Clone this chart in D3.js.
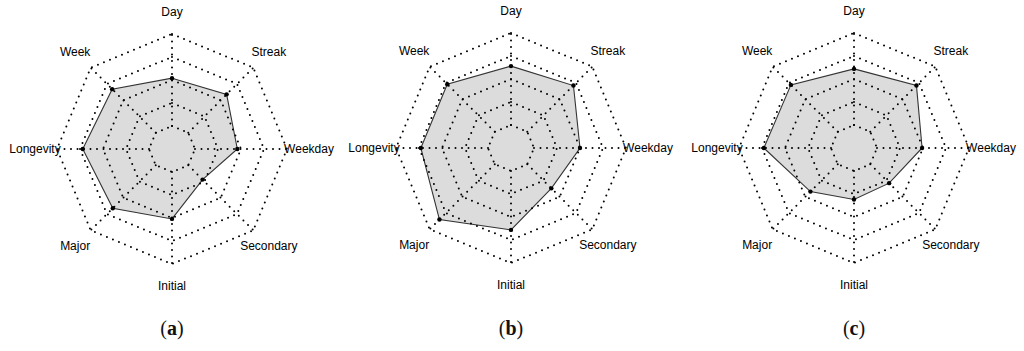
<!DOCTYPE html>
<html>
<head>
<meta charset="utf-8">
<script src="https://cdn.jsdelivr.net/npm/d3@7"></script>
<style>
  html, body { margin: 0; padding: 0; background: #fff; }
  svg { display: block; }
</style>
</head>
<body>
<svg id="chart" width="1024" height="351"></svg>
<script>
const categories = ["Day", "Streak", "Weekday", "Secondary", "Initial", "Major", "Longevity", "Week"];
const seriesA = [52, 59, 46, 22, 51, 66, 72, 67];
const seriesB = [64, 71, 50, 37, 64, 85, 73, 73];
const seriesC = [61, 71, 49, 29, 31, 42, 73, 72];
const panelLabels = ["a", "b", "c"];
const gridLevels = [0, 25, 50, 75, 100];

const panels = [
  { values: seriesA, label: panelLabels[0], cx: 172, cy: 149 },
  { values: seriesB, label: panelLabels[1], cx: 511, cy: 148 },
  { values: seriesC, label: panelLabels[2], cx: 854, cy: 148 }
];

const R = 115;
const r = d3.scaleLinear().domain([0, 100]).range([R / 5, R]);
const angle = d3.scalePoint().domain(categories).range([0, 2 * Math.PI * 7 / 8]);

const svg = d3.select("#chart");

function pt(cat, rad) {
  const a = angle(cat);
  return [rad * Math.sin(a), -rad * Math.cos(a)];
}

panels.forEach(p => {
  const g = svg.append("g").attr("transform", `translate(${p.cx},${p.cy})`);

  const line = d3.line().curve(d3.curveLinearClosed);
  g.append("path")
    .attr("d", line(categories.map((c, i) => pt(c, r(p.values[i])))))
    .attr("fill", "#dcdcdc")
    .attr("stroke", "#333")
    .attr("stroke-width", 1.1);

  gridLevels.forEach(lv => {
    g.append("path")
      .attr("d", line(categories.map(c => pt(c, r(lv)))))
      .attr("fill", "none")
      .attr("stroke", "#000")
      .attr("stroke-width", 2)
      .attr("stroke-linecap", "round")
      .attr("stroke-dasharray", "0,6.5");
  });

  categories.forEach(c => {
    const a0 = pt(c, r(0)), a1 = pt(c, r(100));
    g.append("line")
      .attr("x1", a0[0]).attr("y1", a0[1])
      .attr("x2", a1[0]).attr("y2", a1[1])
      .attr("stroke", "#000")
      .attr("stroke-width", 2)
      .attr("stroke-linecap", "round")
      .attr("stroke-dasharray", "0,6.5");
  });

  categories.forEach((c, i) => {
    const q = pt(c, r(p.values[i]));
    g.append("circle").attr("cx", q[0]).attr("cy", q[1]).attr("r", 2.2).attr("fill", "#000");
  });

  categories.forEach(c => {
    const q = pt(c, 137);
    g.append("text")
      .attr("x", q[0]).attr("y", q[1])
      .attr("text-anchor", "middle")
      .attr("dominant-baseline", "central")
      .attr("font-family", "Liberation Sans, Arial, sans-serif")
      .attr("font-size", 12)
      .attr("fill", "#000")
      .text(c);
  });

  const t = svg.append("text")
    .attr("x", p.cx).attr("y", 335)
    .attr("text-anchor", "middle")
    .attr("font-family", "Liberation Serif, DejaVu Serif, serif")
    .attr("font-size", 20)
    .attr("fill", "#111");
  t.append("tspan").text("(");
  t.append("tspan").attr("font-weight", "bold").text(p.label);
  t.append("tspan").text(")");
});
</script>
</body>
</html>
